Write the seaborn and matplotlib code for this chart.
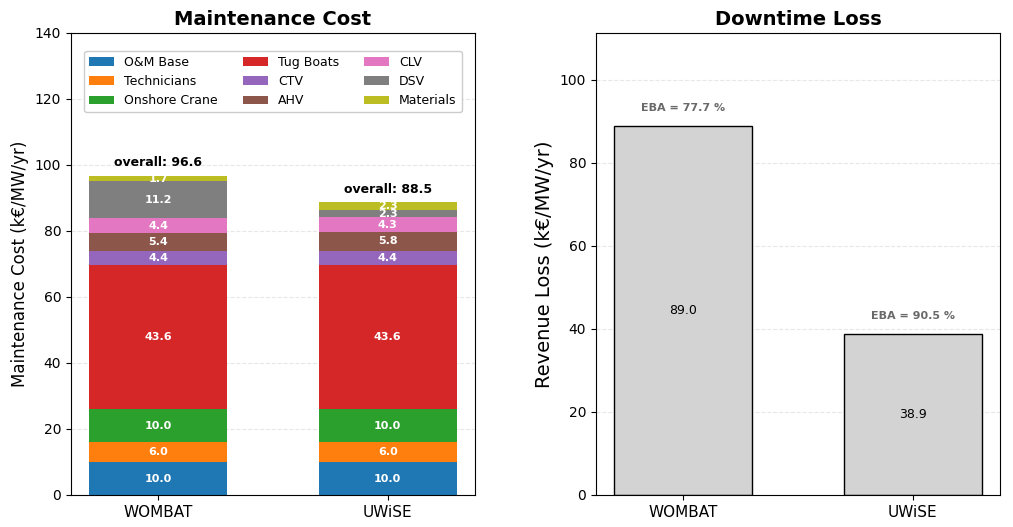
import numpy as np
import pandas as pd
import seaborn as sns
import matplotlib.pyplot as plt

models = ["WOMBAT", "UWiSE"]
components = ["O&M Base", "Technicians", "Onshore Crane", "Tug Boats", "CTV",
              "AHV", "CLV", "DSV", "Materials"]
wombat_cost = [10.0, 6.0, 10.0, 43.6, 4.4, 5.4, 4.4, 11.2, 1.7]
uwise_cost = [10.0, 6.0, 10.0, 43.6, 4.4, 5.8, 4.3, 2.3, 2.3]
overall = [96.6, 88.5]
revenue_loss = [89.0, 38.9]
eba = [77.7, 90.5]

colors = sns.color_palette("tab10", 9)

fig = plt.figure(figsize=(10.13, 5.27), dpi=100)
ax1 = fig.add_axes([71/1013, 1-495/527, 404/1013, 462/527])
ax2 = fig.add_axes([596/1013, 1-495/527, 404/1013, 462/527])

costs = np.array([wombat_cost, uwise_cost])
x = np.arange(len(models))
bottom = np.zeros(len(models))
for i, comp in enumerate(components):
    vals = costs[:, i]
    ax1.bar(x, vals, 0.6, bottom=bottom, color=colors[i], label=comp, linewidth=0)
    for j in range(len(models)):
        ax1.text(x[j], bottom[j] + vals[j] / 2, f"{vals[j]:.1f}", ha="center",
                 va="center", color="white", fontsize=8, fontweight="bold")
    bottom += vals
for j in range(len(models)):
    ax1.text(x[j], bottom[j] + 2, f"overall: {overall[j]:.1f}", ha="center",
             va="bottom", fontsize=9, fontweight="bold")
ax1.set_xlim(-0.38, 1.38)
ax1.set_ylim(0, 140)
ax1.set_xticks(x)
ax1.set_xticklabels(models, fontsize=11)
ax1.set_ylabel("Maintenance Cost (k€/MW/yr)", fontsize=12)
ax1.set_title("Maintenance Cost", fontsize=14, fontweight="bold")
ax1.grid(axis="y", linestyle="--", alpha=0.3)
ax1.set_axisbelow(True)
ax1.legend(ncol=3, fontsize=9, loc="upper center",
           bbox_to_anchor=(0.5, 0.975), framealpha=1)

df = pd.DataFrame({"model": models, "loss": revenue_loss})
sns.barplot(data=df, x="model", y="loss", ax=ax2, color="lightgray",
            edgecolor="black", linewidth=1, width=0.6, saturation=1)
for j in range(len(models)):
    ax2.text(j, revenue_loss[j] / 2, f"{revenue_loss[j]:.1f}", ha="center",
             va="center", fontsize=9)
    ax2.text(j, revenue_loss[j] + 3, f"EBA = {eba[j]:.1f} %", ha="center",
             va="bottom", fontsize=8, fontweight="bold", color="dimgray")
ax2.set_xlim(-0.38, 1.38)
ax2.set_ylim(0, 111.3)
ax2.set_xlabel("")
ax2.set_ylabel("Revenue Loss (k€/MW/yr)", fontsize=14)
ax2.set_xticks(x)
ax2.set_xticklabels(models, fontsize=11)
ax2.set_title("Downtime Loss", fontsize=14, fontweight="bold")
ax2.grid(axis="y", linestyle="--", alpha=0.3)
ax2.set_axisbelow(True)

fig.savefig("out.png", dpi=100)
